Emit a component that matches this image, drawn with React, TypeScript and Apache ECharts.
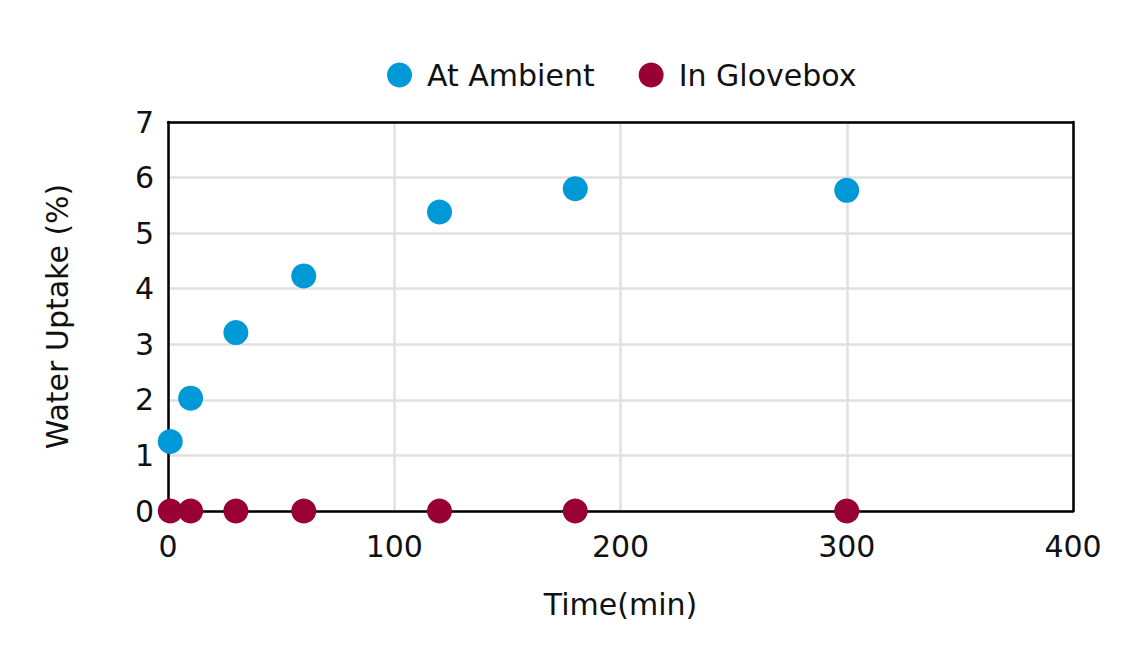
import React, { useRef, useEffect } from 'react';
import * as echarts from 'echarts';

const FONT = '"DejaVu Sans", Lato, sans-serif';

// ─── Data ────────────────────────────────────────────────────────────────────
const TIMES = [1, 10, 30, 60, 120, 180, 300];
const AMBIENT = [1.25, 2.03, 3.21, 4.23, 5.38, 5.8, 5.77];
const GLOVEBOX = [0, 0, 0, 0, 0, 0, 0];

const BLUE = '#0099D8';
const MAROON = '#990033';
const TEXT = '#111111';

function getOption(): echarts.EChartsCoreOption {
  const frame = { show: true, onZero: false, lineStyle: { color: '#000', width: 2.5 } };
  return {
    animation: false,
    backgroundColor: '#FFFFFF',
    textStyle: { fontFamily: FONT },
    legend: {
      top: 55,
      left: 382,
      itemWidth: 25,
      itemHeight: 25,
      itemGap: 44,
      icon: 'circle',
      textStyle: { fontSize: 30, color: TEXT, fontFamily: FONT, padding: [0, 0, 0, 10] },
      data: ['At Ambient', 'In Glovebox'],
    },
    grid: {
      left: 168,
      right: 62,
      top: 122,
      bottom: 143,
      containLabel: false,
    },
    xAxis: [
      {
        type: 'value',
        min: 0,
        max: 400,
        interval: 100,
        name: 'Time(min)',
        nameLocation: 'middle',
        nameGap: 78,
        nameTextStyle: { fontSize: 30, color: TEXT, fontFamily: FONT },
        axisLine: frame,
        axisTick: { show: false },
        axisLabel: { fontSize: 30, color: TEXT, margin: 20, fontFamily: FONT },
        splitLine: { show: true, lineStyle: { color: '#E0E0E0', width: 2.5 } },
        z: 5,
      },
      {
        type: 'value',
        position: 'top',
        min: 0,
        max: 400,
        interval: 100,
        axisLine: frame,
        axisTick: { show: false },
        axisLabel: { show: false },
        splitLine: { show: false },
        z: 5,
      },
    ],
    yAxis: [
      {
        type: 'value',
        min: 0,
        max: 7,
        interval: 1,
        name: 'Water Uptake (%)',
        nameLocation: 'middle',
        nameGap: 96,
        nameTextStyle: { fontSize: 30, color: TEXT, fontFamily: FONT },
        axisLine: frame,
        axisTick: { show: false },
        axisLabel: { fontSize: 30, color: TEXT, margin: 14, fontFamily: FONT },
        splitLine: { show: true, lineStyle: { color: '#E0E0E0', width: 2.5 } },
        z: 5,
      },
      {
        type: 'value',
        position: 'right',
        min: 0,
        max: 7,
        interval: 1,
        axisLine: frame,
        axisTick: { show: false },
        axisLabel: { show: false },
        splitLine: { show: false },
        z: 5,
      },
    ],
    series: [
      {
        name: 'At Ambient',
        type: 'scatter',
        symbol: 'circle',
        symbolSize: 25,
        itemStyle: { color: BLUE, opacity: 1 },
        data: TIMES.map((t, i) => [t, AMBIENT[i]]),
        z: 6,
      },
      {
        name: 'In Glovebox',
        type: 'scatter',
        symbol: 'circle',
        symbolSize: 25,
        itemStyle: { color: MAROON, opacity: 1 },
        data: TIMES.map((t, i) => [t, GLOVEBOX[i]]),
        z: 7,
      },
    ],
  };
}

function Chart() {
  const ref = useRef<HTMLDivElement>(null);

  useEffect(() => {
    if (!ref.current) return;
    const chart = echarts.init(ref.current, undefined, { renderer: 'svg' });
    chart.setOption(getOption());
    return () => chart.dispose();
  }, []);

  return <div ref={ref} style={{ width: 1135, height: 654 }} />;
}

export default function App() {
  return (
    <div style={{ position: 'fixed', left: 0, top: 0, width: 1135, height: 654, background: '#fff' }}>
      <Chart />
    </div>
  );
}
